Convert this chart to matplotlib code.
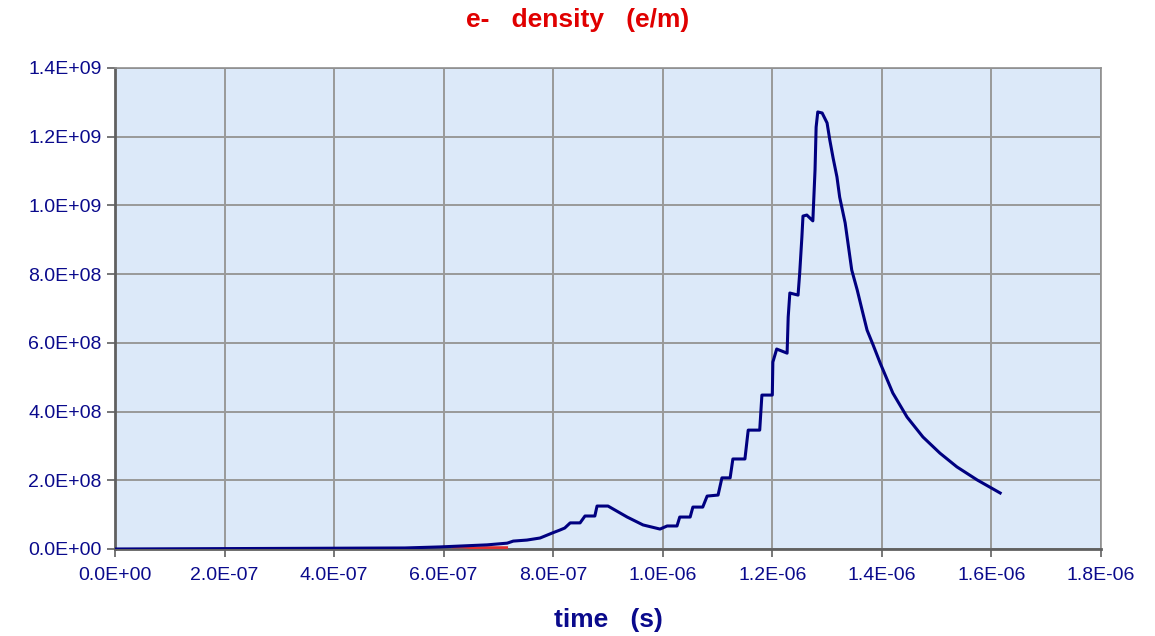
import numpy as np
import matplotlib.pyplot as plt

plt.rcParams['font.family'] = ['Liberation Sans', 'DejaVu Sans']

# time in units of 1E-7 s, density in units of 1E8 e/m
t_main = [0, 5.29, 5.93, 6.79, 7.16, 7.27, 7.52, 7.76, 7.99, 8.12, 8.21, 8.31, 8.49,
          8.58, 8.76, 8.80, 9.00, 9.35, 9.64, 9.95, 10.08, 10.26, 10.31, 10.50, 10.55,
          10.73, 10.81, 11.01, 11.08, 11.23, 11.28, 11.50, 11.56, 11.77, 11.81, 12.0,
          12.01, 12.08, 12.27, 12.29, 12.32, 12.47, 12.50, 12.54, 12.56, 12.63, 12.74,
          12.78, 12.80, 12.83, 12.91, 13.00, 13.05, 13.11, 13.18, 13.23, 13.33, 13.45,
          13.55, 13.64, 13.73, 13.84, 13.97, 14.20, 14.46, 14.75, 15.06, 15.37, 15.74,
          16.16]
v_main = [0, 0.03, 0.06, 0.12, 0.17, 0.23, 0.26, 0.32, 0.47, 0.55, 0.61, 0.76, 0.76,
          0.96, 0.96, 1.25, 1.25, 0.93, 0.70, 0.58, 0.67, 0.67, 0.93, 0.93, 1.22,
          1.22, 1.54, 1.57, 2.07, 2.07, 2.62, 2.62, 3.46, 3.46, 4.48, 4.48,
          5.44, 5.82, 5.70, 6.75, 7.45, 7.39, 8.03, 9.08, 9.69, 9.72, 9.55,
          11.03, 12.28, 12.72, 12.69, 12.40, 11.90, 11.38, 10.83, 10.24, 9.49, 8.12,
          7.54, 6.95, 6.37, 5.94, 5.41, 4.54, 3.84, 3.26, 2.79, 2.39, 2.01,
          1.63]

t_red = [6.17, 6.35, 6.55, 6.75, 7.15]
v_red = [0.06, 0.06, 0.03, 0.04, 0.04]

xticks = np.arange(0, 19, 2)
yticks = np.arange(0, 15, 2)
xlabels = ["0.0E+00", "2.0E-07", "4.0E-07", "6.0E-07", "8.0E-07",
           "1.0E-06", "1.2E-06", "1.4E-06", "1.6E-06", "1.8E-06"]
ylabels = ["0.0E+00", "2.0E+08", "4.0E+08", "6.0E+08", "8.0E+08",
           "1.0E+09", "1.2E+09", "1.4E+09"]

navy = '#0a0a8c'

fig = plt.figure(figsize=(11.55, 6.36), dpi=100)
ax = fig.add_axes([0.0996, 0.1368, 0.8536, 0.7563])
ax.set_facecolor('#dce9f9')

ax.plot(t_red, v_red, color='#e03030', lw=2.0, zorder=3)
ax.plot(t_main, v_main, color='#000080', lw=2.2, zorder=4)

ax.set_xlim(0, 18)
ax.set_ylim(0, 14)
ax.set_xticks(xticks)
ax.set_xticklabels(xlabels)
ax.set_yticks(yticks)
ax.set_yticklabels(ylabels)
ax.tick_params(colors='#606060', labelcolor=navy, labelsize=14, length=6, width=1.2)
ax.tick_params(axis='x', pad=7)
ax.grid(True, color='#999999', lw=1.4)
ax.set_axisbelow(True)
for s in ax.spines.values():
    s.set_color('#909090')
    s.set_linewidth(1.2)
ax.spines['bottom'].set_color('#606060')
ax.spines['bottom'].set_linewidth(2)
ax.spines['left'].set_color('#606060')
ax.spines['left'].set_linewidth(2)

fig.text(0.5, 0.968, "e-   density   (e/m)", color='#e00000', fontsize=19,
         fontweight='bold', ha='center', va='center')
fig.text(0.5265, 0.025, "time   (s)", color=navy, fontsize=19,
         fontweight='bold', ha='center', va='center')

fig.savefig('out.png', dpi=100)
